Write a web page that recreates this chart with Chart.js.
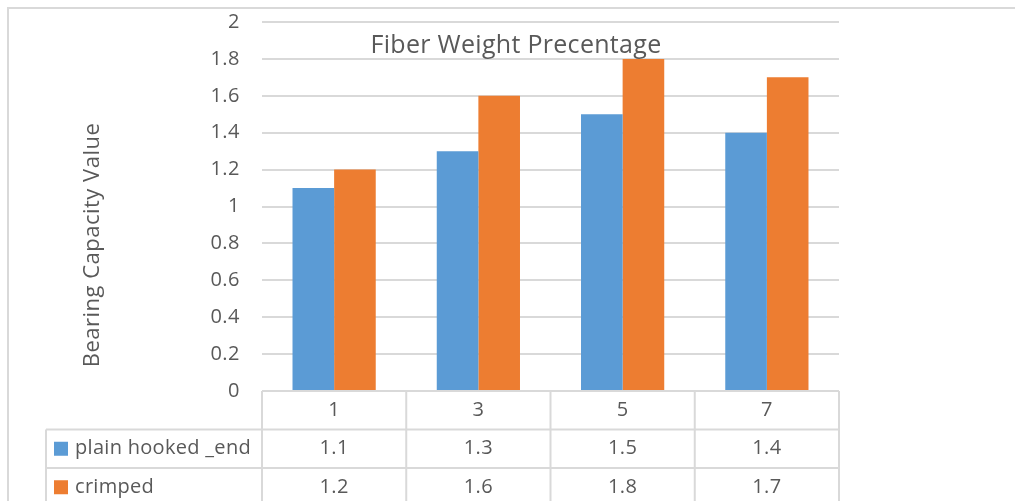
<!DOCTYPE html>
<html>
<head>
<meta charset="utf-8">
<script src="https://cdn.jsdelivr.net/npm/chart.js@4/dist/chart.umd.min.js"></script>
<style>
  html, body { margin: 0; padding: 0; background: #fff; overflow: hidden; }
  #wrap { position: relative; width: 1015px; height: 501px; }
  canvas { display: block; }
</style>
</head>
<body>
<div id="wrap"><canvas id="c" width="1015" height="501"></canvas></div>
<script>
const categories = ['1', '3', '5', '7'];
const seriesNames = ['plain hooked _end', 'crimped'];
const plainHooked = [1.1, 1.3, 1.5, 1.4];
const crimped = [1.2, 1.6, 1.8, 1.7];
const seriesColors = ['#5B9BD5', '#ED7D31'];
const chartTitle = 'Fiber Weight Precentage';
const yAxisTitle = 'Bearing Capacity Value';

const FONT = '"Open Sans"';
const TXT = '#595959';
const GRID = '#d9d9d9';

const frame = {
  id: 'frame',
  beforeDraw(chart) {
    const ctx = chart.ctx;
    ctx.save();
    ctx.strokeStyle = GRID;
    ctx.lineWidth = 2;
    ctx.beginPath();
    ctx.moveTo(8, 2000);
    ctx.lineTo(8, 8);
    ctx.lineTo(2000, 8);
    ctx.stroke();
    ctx.restore();
    ctx.letterSpacing = '0.5px';
  }
};

const overlay = {
  id: 'overlay',
  afterDraw(chart) {
    const ctx = chart.ctx;
    const x = chart.scales.x;
    const area = chart.chartArea;
    const n = categories.length;
    const half = (x.getPixelForValue(1) - x.getPixelForValue(0)) / 2;
    const bounds = [];
    for (let i = 0; i < n; i++) bounds.push(x.getPixelForValue(i) - half);
    bounds.push(x.getPixelForValue(n - 1) + half);
    const top = area.bottom;
    const rowH = 38.5;
    const legLeft = 46;
    ctx.save();
    ctx.letterSpacing = '0.3px';
    // title
    ctx.fillStyle = TXT;
    ctx.font = '25px ' + FONT;
    ctx.textAlign = 'center';
    ctx.textBaseline = 'middle';
    ctx.fillText(chartTitle, 516, 46);

    // y axis title
    ctx.save();
    ctx.letterSpacing = '0.5px';
    ctx.font = '22px ' + FONT;
    ctx.translate(99, 245);
    ctx.rotate(-Math.PI / 2);
    ctx.textAlign = 'center';
    ctx.textBaseline = 'alphabetic';
    ctx.fillText(yAxisTitle, 0, 0);
    ctx.restore();

    // table grid
    ctx.strokeStyle = GRID;
    ctx.lineWidth = 2;
    ctx.beginPath();
    ctx.moveTo(bounds[0], top); ctx.lineTo(bounds[n], top);
    for (let r = 1; r <= 2; r++) {
      const y = top + rowH * r;
      ctx.moveTo(legLeft, y); ctx.lineTo(bounds[n], y);
    }
    bounds.forEach(b => { ctx.moveTo(b, top); ctx.lineTo(b, 520); });
    ctx.moveTo(legLeft, top + rowH); ctx.lineTo(legLeft, 520);
    ctx.stroke();

    // texts
    ctx.fillStyle = TXT;
    ctx.font = '20px ' + FONT;
    ctx.textAlign = 'center';
    ctx.textBaseline = 'middle';
    const rows = [plainHooked, crimped];
    for (let i = 0; i < n; i++) {
      const cx = x.getPixelForValue(i);
      ctx.fillText(categories[i], cx, top + rowH * 0.5);
      rows.forEach((vals, r) => {
        ctx.fillText(String(vals[i]), cx, top + rowH * (r + 1.5));
      });
    }
    // legend keys
    ctx.textAlign = 'left';
    seriesNames.forEach((name, r) => {
      const cy = top + rowH * (r + 1.5);
      ctx.fillStyle = seriesColors[r];
      ctx.fillRect(54, cy - 7, 14, 14);
      ctx.fillStyle = TXT;
      ctx.fillText(name, 75, cy);
    });
    ctx.restore();
  }
};

new Chart(document.getElementById('c'), {
  type: 'bar',
  data: {
    labels: categories,
    datasets: [
      { label: seriesNames[0], data: plainHooked, backgroundColor: seriesColors[0], categoryPercentage: 0.577, barPercentage: 1.0 },
      { label: seriesNames[1], data: crimped, backgroundColor: seriesColors[1], categoryPercentage: 0.577, barPercentage: 1.0 }
    ]
  },
  options: {
    responsive: false,
    animation: false,
    layout: { padding: { left: 76, right: 176, top: 22, bottom: 110 } },
    plugins: { legend: { display: false }, title: { display: false }, tooltip: { enabled: false } },
    scales: {
      x: { display: false },
      y: {
        min: 0, max: 2,
        afterFit(scale) { scale.width = 186; scale.paddingTop = 0; scale.paddingBottom = 0; },
        ticks: {
          stepSize: 0.2,
          padding: 22,
          color: TXT,
          font: { family: FONT, size: 20 },
          callback: v => String(Math.round(v * 10) / 10)
        },
        grid: { color: GRID, lineWidth: 2, drawTicks: false },
        border: { display: false },
        title: { display: false }
      }
    }
  },
  plugins: [frame, overlay]
});
</script>
</body>
</html>
